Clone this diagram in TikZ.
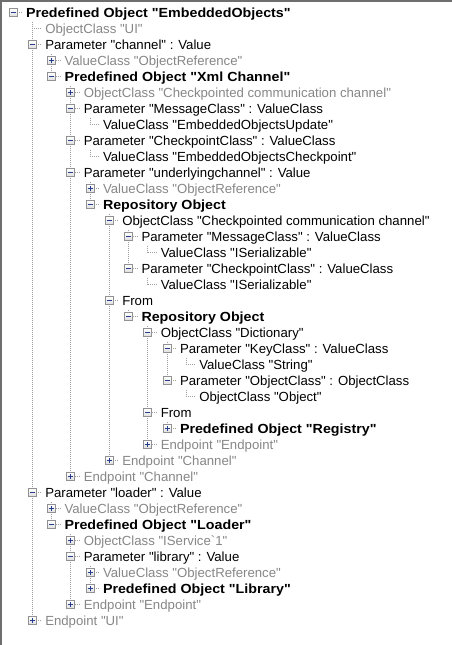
\documentclass[tikz,border=0pt]{standalone}
\usepackage{fontspec}
\setmainfont{Liberation Sans}[Ligatures=TeXOff, BoldFeatures={FakeStretch=1.08}]
\usetikzlibrary{backgrounds}

\definecolor{txtgray}{RGB}{135,135,135}
\definecolor{linegray}{RGB}{160,160,160}
\definecolor{boxgray}{RGB}{145,145,145}
\definecolor{boxfill}{RGB}{222,222,222}
\definecolor{signblue}{RGB}{40,60,140}
\definecolor{framegray}{RGB}{110,110,110}

\tikzset{
  tline/.style={draw=linegray, line width=1pt, dash pattern=on 1pt off 1pt},
  xbox/.style={draw=boxgray, line width=1pt, minimum size=8pt, inner sep=0pt,
    outer sep=0pt, top color=white, bottom color=boxfill},
  minusbox/.style={xbox, path picture={
    \draw[signblue, line width=1pt]
      ([xshift=-2.5pt]path picture bounding box.center) -- ++(5pt,0);}},
  plusbox/.style={xbox, path picture={
    \draw[signblue, line width=1pt]
      ([xshift=-2.5pt]path picture bounding box.center) -- ++(5pt,0)
      ([yshift=-2.5pt]path picture bounding box.center) -- ++(0,5pt);}},
  label/.style={anchor=base west, inner sep=0pt, outer sep=0pt,
    font=\fontsize{13.2}{16}\selectfont},
  normal/.style={label, text=black},
  dim/.style={label, text=txtgray},
  strong/.style={label, text=black, font=\fontsize{13.2}{16}\selectfont\bfseries},
}

% one tree row: id, level, kind (leaf/plus/minus), text style, text
\newcommand\treerow[5]{%
  \coordinate (r#1) at ({13+19.25*#2},{12.5+16*(#1-1)});
  \coordinate (h#1) at ({13+19.25*#2+10},{12.5+16*(#1-1)});
  \node[#4] (t#1) at ({13+19.25*#2+13},{12.5+16*(#1-1)+4.8}) {#5};
  \ifx\relax#3\relax\else
    \node[#3box] (b#1) at (r#1) {};
  \fi
  \begin{pgfonlayer}{background}
    \draw[tline] (r#1) -- (h#1);
  \end{pgfonlayer}
}
% vertical line joining the children of one node
\newcommand\branch[2]{%
  \begin{pgfonlayer}{background}
    \draw[tline] ([yshift=7pt]r#1) -- (r#2);
  \end{pgfonlayer}
}

\begin{document}
\begin{tikzpicture}[x=1pt, y=-1pt]
\useasboundingbox (0,0) rectangle (452,645);
\begin{pgfonlayer}{background}
  \fill[white] (0,0) rectangle (452,645);
\end{pgfonlayer}

\treerow{1}{0}{minus}{strong}{Predefined Object "EmbeddedObjects"}
\treerow{2}{1}{}{dim}{ObjectClass "UI"}
\treerow{3}{1}{minus}{normal}{Parameter "channel" : Value}
\treerow{4}{2}{plus}{dim}{ValueClass "ObjectReference"}
\treerow{5}{2}{minus}{strong}{Predefined Object "Xml Channel"}
\treerow{6}{3}{plus}{dim}{ObjectClass "Checkpointed communication channel"}
\treerow{7}{3}{minus}{normal}{Parameter "MessageClass" : ValueClass}
\treerow{8}{4}{}{normal}{ValueClass "EmbeddedObjectsUpdate"}
\treerow{9}{3}{minus}{normal}{Parameter "CheckpointClass" : ValueClass}
\treerow{10}{4}{}{normal}{ValueClass "EmbeddedObjectsCheckpoint"}
\treerow{11}{3}{minus}{normal}{Parameter "underlyingchannel" : Value}
\treerow{12}{4}{plus}{dim}{ValueClass "ObjectReference"}
\treerow{13}{4}{minus}{strong}{Repository Object}
\treerow{14}{5}{minus}{normal}{ObjectClass "Checkpointed communication channel"}
\treerow{15}{6}{minus}{normal}{Parameter "MessageClass" : ValueClass}
\treerow{16}{7}{}{normal}{ValueClass "ISerializable"}
\treerow{17}{6}{minus}{normal}{Parameter "CheckpointClass" : ValueClass}
\treerow{18}{7}{}{normal}{ValueClass "ISerializable"}
\treerow{19}{5}{minus}{normal}{From}
\treerow{20}{6}{minus}{strong}{Repository Object}
\treerow{21}{7}{minus}{normal}{ObjectClass "Dictionary"}
\treerow{22}{8}{minus}{normal}{Parameter "KeyClass" : ValueClass}
\treerow{23}{9}{}{normal}{ValueClass "String"}
\treerow{24}{8}{minus}{normal}{Parameter "ObjectClass" : ObjectClass}
\treerow{25}{9}{}{normal}{ObjectClass "Object"}
\treerow{26}{7}{minus}{normal}{From}
\treerow{27}{8}{plus}{strong}{Predefined Object "Registry"}
\treerow{28}{7}{plus}{dim}{Endpoint "Endpoint"}
\treerow{29}{5}{plus}{dim}{Endpoint "Channel"}
\treerow{30}{3}{plus}{dim}{Endpoint "Channel"}
\treerow{31}{1}{minus}{normal}{Parameter "loader" : Value}
\treerow{32}{2}{plus}{dim}{ValueClass "ObjectReference"}
\treerow{33}{2}{minus}{strong}{Predefined Object "Loader"}
\treerow{34}{3}{plus}{dim}{ObjectClass "IService\symbol{96}1"}
\treerow{35}{3}{minus}{normal}{Parameter "library" : Value}
\treerow{36}{4}{plus}{dim}{ValueClass "ObjectReference"}
\treerow{37}{4}{plus}{strong}{Predefined Object "Library"}
\treerow{38}{3}{plus}{dim}{Endpoint "Endpoint"}
\treerow{39}{1}{plus}{dim}{Endpoint "UI"}

% sibling lines
\branch{2}{39}
\branch{4}{5}
\branch{6}{30}
\branch{8}{8}
\branch{10}{10}
\branch{12}{13}
\branch{14}{29}
\branch{15}{17}
\branch{16}{16}
\branch{18}{18}
\branch{20}{20}
\branch{21}{28}
\branch{22}{24}
\branch{23}{23}
\branch{25}{25}
\branch{27}{27}
\branch{32}{33}
\branch{34}{38}
\branch{36}{37}

% window frame
\fill[framegray] (0,0) rectangle (452,2);
\fill[framegray] (0,0) rectangle (2,645);
\end{tikzpicture}
\end{document}
